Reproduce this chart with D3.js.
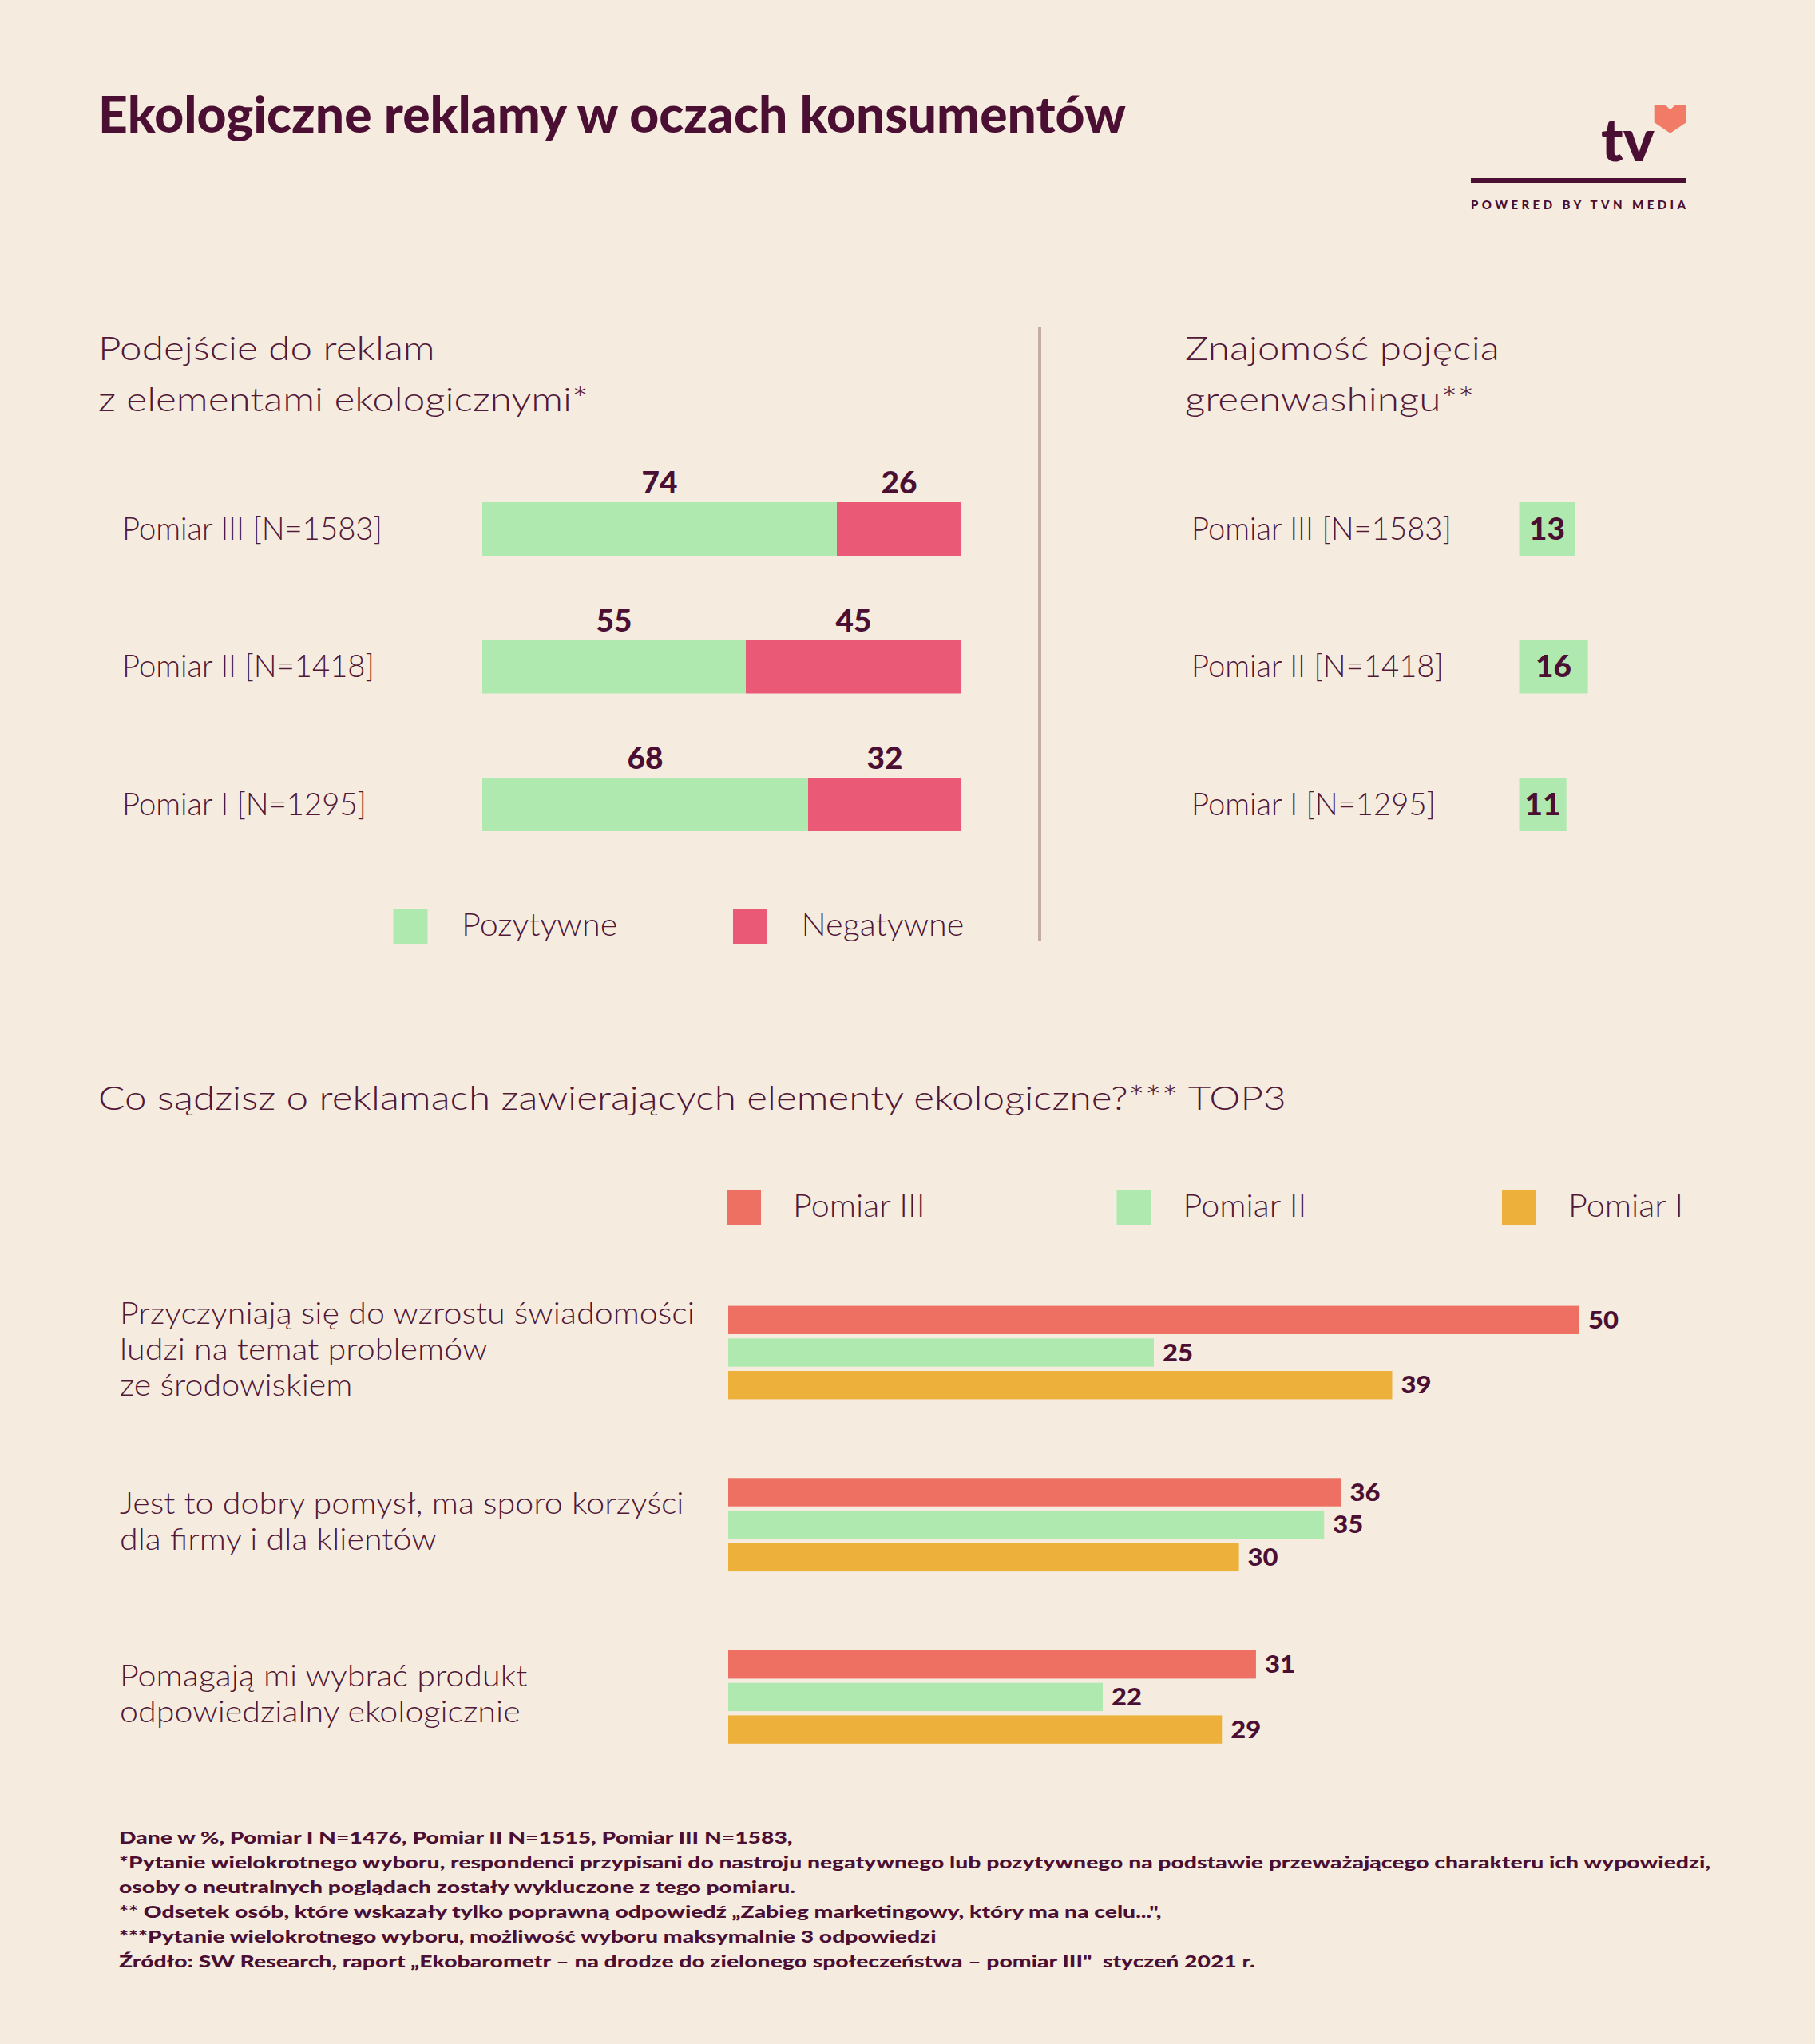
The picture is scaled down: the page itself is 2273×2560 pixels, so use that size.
<!DOCTYPE html>
<html>
<head>
<meta charset="utf-8">
<script src="https://cdn.jsdelivr.net/npm/d3@7"></script>
<style>
  html, body { margin: 0; padding: 0; background: #f5ecdf; }
  svg { display: block; }
  text { white-space: pre; }
</style>
</head>
<body>
<script>
// ---------------- DATA ----------------
const chartTitle = "Ekologiczne reklamy w oczach konsumentów";
const leftTitle = ["Podejście do reklam", "z elementami ekologicznymi*"];
const rightTitle = ["Znajomość pojęcia", "greenwashingu**"];
const approachCategories = ["Pomiar III [N=1583]", "Pomiar II [N=1418]", "Pomiar I [N=1295]"];
const positiveValues = [74, 55, 68];
const negativeValues = [26, 45, 32];
const approachLegend = ["Pozytywne", "Negatywne"];
const greenwashingValues = [13, 16, 11];

const opinionTitle = "Co sądzisz o reklamach zawierających elementy ekologiczne?*** TOP3";
const opinionCategories = [
  ["Przyczyniają się do wzrostu świadomości", "ludzi na temat problemów", "ze środowiskiem"],
  ["Jest to dobry pomysł, ma sporo korzyści", "dla firmy i dla klientów"],
  ["Pomagają mi wybrać produkt", "odpowiedzialny ekologicznie"]
];
const opinionSeries = ["Pomiar III", "Pomiar II", "Pomiar I"];
const pomiar3Values = [50, 36, 31];
const pomiar2Values = [25, 35, 22];
const pomiar1Values = [39, 30, 29];

const footerLines = [
  "Dane w %, Pomiar I N=1476, Pomiar II N=1515, Pomiar III N=1583,",
  "*Pytanie wielokrotnego wyboru, respondenci przypisani do nastroju negatywnego lub pozytywnego na podstawie przeważającego charakteru ich wypowiedzi,",
  "osoby o neutralnych poglądach zostały wykluczone z tego pomiaru.",
  "** Odsetek osób, które wskazały tylko poprawną odpowiedź „Zabieg marketingowy, który ma na celu...\",",
  "***Pytanie wielokrotnego wyboru, możliwość wyboru maksymalnie 3 odpowiedzi",
  "Źródło: SW Research, raport „Ekobarometr – na drodze do zielonego społeczeństwa – pomiar III\"  styczeń 2021 r."
];
const logoText = "tv";
const poweredText = "POWERED BY TVN MEDIA";

// ---------------- STYLE ----------------
const W = 2273, H = 2560;
const BG = "#f5ecdf";
const DARK = "#4b0f33";
const TEXT = "#511838";
const GREEN = "#b0e9b0";
const PINK = "#ea5a77";
const SALMON = "#ed7062";
const ORANGE = "#edb03b";
const HEART = "#f27b68";
const DIVIDER = "#c4aba8";

const svg = d3.select("body").append("svg").attr("width", W).attr("height", H);
svg.append("rect").attr("width", W).attr("height", H).attr("fill", BG);

const styles = {
  title:    { family: "Lato", weight: 900, size: 63, ref: chartTitle, target: 1287 },
  subtitle: { family: "Lato", weight: 300, size: 42, ref: opinionTitle, target: 1488 },
  rowLabel: { family: "Lato", weight: 300, size: 39, ref: approachCategories[0], target: 326 },
  legend:   { family: "Lato", weight: 300, size: 39, ref: approachLegend[1], target: 204 },
  cat:      { family: "Lato", weight: 300, size: 37, ref: opinionCategories[0][0], target: 720 },
  val:      { family: "Lato", weight: 900, size: 37, ref: "45", target: 45 },
  valSm:    { family: "Lato", weight: 900, size: 30, ref: "50", target: 38 },
  footer:   { family: "Lato", weight: 900, size: 21, ref: footerLines[1], target: 1994 },
  logo:     { family: "Lato", weight: 900, size: 74, ref: logoText, target: 67 },
  powered:  { family: "Lato", weight: 900, size: 15 }
};

function applyFont(sel, st) {
  return sel.attr("font-family", st.family + ", 'DejaVu Sans', sans-serif")
    .attr("font-weight", st.weight).attr("font-size", st.size);
}
// compute horizontal stretch per style
Object.values(styles).forEach(st => {
  st.sx = 1;
  if (st.ref) {
    const t = applyFont(svg.append("text"), st).text(st.ref);
    const len = t.node().getComputedTextLength();
    t.remove();
    if (len > 0) st.sx = st.target / len;
  }
});

function addText(g, str, x, y, st, anchor, color) {
  return applyFont(g.append("text"), st)
    .attr("transform", `translate(${x},${y}) scale(${st.sx},1)`)
    .attr("text-anchor", anchor || "start")
    .attr("fill", color || TEXT)
    .text(str);
}

// ---------------- HEADER ----------------
addText(svg, chartTitle, 123, 166, styles.title, "start", DARK);

// Logo
addText(svg, logoText, 2005, 202, styles.logo, "start", DARK);
const heart = [[0,0],[13.3,0],[20,6.3],[26.7,0],[40,0],[40,22.3],[20,35.7],[0,22.3]];
svg.append("polygon")
  .attr("points", heart.map(p => [p[0] + 2071.7, p[1] + 131].join(",")).join(" "))
  .attr("fill", HEART);
svg.append("rect").attr("x", 1842).attr("y", 223).attr("width", 270).attr("height", 6).attr("fill", DARK);
applyFont(svg.append("text"), styles.powered)
  .attr("x", 1842).attr("y", 262)
  .attr("textLength", 269).attr("lengthAdjust", "spacing")
  .attr("fill", DARK).text(poweredText);

// ---------------- LEFT: stacked bars ----------------
const leftG = svg.append("g");
leftTitle.forEach((l, i) => addText(leftG, l, 123, 451 + i * 64, styles.subtitle));

const yRows = d3.scaleBand().domain(approachCategories)
  .range([576.25, 1093.75]).paddingInner(0.6116).paddingOuter(0.3058);
const xLeft = d3.scaleLinear().domain([0, 100]).range([604, 1204]);

const approachTable = approachCategories.map((c, i) => ({ cat: c, pos: positiveValues[i], neg: negativeValues[i] }));
const stacked = d3.stack().keys(["pos", "neg"])(approachTable);
const stackColors = { pos: GREEN, neg: PINK };

stacked.forEach(layer => {
  leftG.append("g").selectAll("rect").data(layer).join("rect")
    .attr("x", d => xLeft(d[0]))
    .attr("y", d => yRows(d.data.cat))
    .attr("width", d => xLeft(d[1]) - xLeft(d[0]))
    .attr("height", yRows.bandwidth())
    .attr("fill", stackColors[layer.key]);
  layer.forEach(d => {
    addText(leftG, String(d[1] - d[0]), xLeft((d[0] + d[1]) / 2), yRows(d.data.cat) - 11, styles.val, "middle", DARK);
  });
});

approachCategories.forEach(c => {
  addText(leftG, c, 153, yRows(c) + yRows.bandwidth() / 2 + 13, styles.rowLabel);
});

// legend
const legendX = [492.5, 918];
const legendColors = [GREEN, PINK];
approachLegend.forEach((name, i) => {
  leftG.append("rect").attr("x", legendX[i]).attr("y", 1139).attr("width", 43).attr("height", 43).attr("fill", legendColors[i]);
  addText(leftG, name, legendX[i] + 85.5, 1172, styles.legend);
});

// divider
svg.append("line").attr("x1", 1302).attr("x2", 1302).attr("y1", 409).attr("y2", 1178)
  .attr("stroke", DIVIDER).attr("stroke-width", 4);

// ---------------- RIGHT: greenwashing ----------------
const rightG = svg.append("g");
rightTitle.forEach((l, i) => addText(rightG, l, 1484, 451 + i * 64, styles.subtitle));
const xRight = d3.scaleLinear().domain([0, 100]).range([1902.5, 2440.5]);
rightG.selectAll("rect.gw").data(greenwashingValues).join("rect")
  .attr("class", "gw")
  .attr("x", xRight(0))
  .attr("y", (d, i) => yRows(approachCategories[i]))
  .attr("width", d => xRight(d) - xRight(0))
  .attr("height", yRows.bandwidth())
  .attr("fill", GREEN);
greenwashingValues.forEach((v, i) => {
  const c = approachCategories[i];
  addText(rightG, c, 1492, yRows(c) + yRows.bandwidth() / 2 + 13, styles.rowLabel);
  addText(rightG, String(v), (xRight(0) + xRight(v)) / 2, yRows(c) + yRows.bandwidth() / 2 + 13, styles.val, "middle", DARK);
});

// ---------------- BOTTOM: grouped bars ----------------
const botG = svg.append("g");
addText(botG, opinionTitle, 123, 1390, styles.subtitle);

const seriesColors = [SALMON, GREEN, ORANGE];
const legendBX = [910, 1398.5, 1881];
opinionSeries.forEach((s, i) => {
  botG.append("rect").attr("x", legendBX[i]).attr("y", 1491).attr("width", 43).attr("height", 43).attr("fill", seriesColors[i]);
  addText(botG, s, legendBX[i] + 83, 1524, styles.legend);
});

const groupKeys = opinionCategories.map((c, i) => "g" + i);
const seriesValues = [pomiar3Values, pomiar2Values, pomiar1Values];
const yGroup = d3.scaleBand().domain(groupKeys).range([1635.6, 2183.8]).paddingInner(0.4585).paddingOuter(0);
const ySeries = d3.scaleBand().domain(opinionSeries).range([0, yGroup.bandwidth()]).paddingInner(0.13).paddingOuter(0);
const xBot = d3.scaleLinear().domain([0, 50]).range([912, 1978]);

const groupTable = [];
groupKeys.forEach((g, gi) => opinionSeries.forEach((s, si) => {
  groupTable.push({ group: g, series: s, value: seriesValues[si][gi], color: seriesColors[si] });
}));

botG.selectAll("rect.bar").data(groupTable).join("rect")
  .attr("class", "bar")
  .attr("x", xBot(0))
  .attr("y", d => yGroup(d.group) + ySeries(d.series))
  .attr("width", d => xBot(d.value) - xBot(0))
  .attr("height", ySeries.bandwidth())
  .attr("fill", d => d.color);

groupTable.forEach(d => {
  addText(botG, String(d.value), xBot(d.value) + 11, yGroup(d.group) + ySeries(d.series) + ySeries.bandwidth() / 2 + 10.5, styles.valSm, "start", DARK);
});

opinionCategories.forEach((lines, gi) => {
  const center = yGroup(groupKeys[gi]) + yGroup.bandwidth() / 2;
  const n = lines.length;
  lines.forEach((l, li) => {
    addText(botG, l, 150, center + 9 + (li - (n - 1) / 2) * 45.3, styles.cat);
  });
});

// ---------------- FOOTER ----------------
footerLines.forEach((l, i) => addText(svg, l, 149, 2309 + i * 31, styles.footer, "start", DARK));
</script>
</body>
</html>
